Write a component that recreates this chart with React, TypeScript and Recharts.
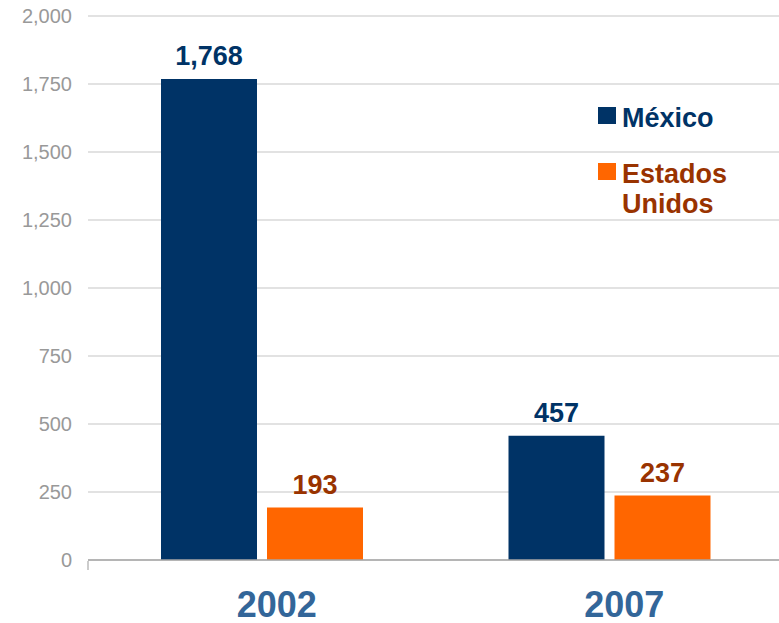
import { Bar, BarChart, CartesianGrid, LabelList, Legend, XAxis, YAxis } from "recharts";

const years = ["2002", "2007"];
const mexico = [1768, 457];
const usa = [193, 237];
const yTicks = [0, 250, 500, 750, 1000, 1250, 1500, 1750, 2000];
const edgeTicks = [0, 1];

const data = years.map((year, i) => ({ year, mexico: mexico[i], usa: usa[i] }));

const font = "'Liberation Sans', Arial, sans-serif";
const navy = "#003366";
const orange = "#ff6600";
const brown = "#993300";

const fmt = (v: number) => v.toLocaleString("en-US");

function YearTick({ x, y, payload }: any) {
  return (
    <text x={x + 15} y={y + 57} textAnchor="middle" fill="#336699" fontFamily={font} fontSize={36} fontWeight="bold">
      {payload.value}
    </text>
  );
}

function makeLabel(color: string) {
  return ({ x, y, width, value }: any) => (
    <text x={x + width / 2} y={y - 14} textAnchor="middle" fill={color} fontFamily={font} fontSize={27} fontWeight="bold">
      {fmt(value)}
    </text>
  );
}

function LegendBox({ payload }: any) {
  const items = [...(payload || [])].sort((a: any, b: any) => (a.dataKey === "mexico" ? -1 : b.dataKey === "mexico" ? 1 : 0));
  return (
    <div style={{ fontFamily: font, fontWeight: "bold", fontSize: 27, lineHeight: "30px" }}>
      {items.map((item: any, i: number) => (
        <div key={item.value} style={{ display: "flex", alignItems: "flex-start", marginBottom: i === 0 ? 26 : 0 }}>
          <div style={{ width: 18, height: 17, marginTop: 4, marginRight: 6, background: item.color, flexShrink: 0 }} />
          <div style={{ width: 130, color: item.dataKey === "mexico" ? navy : brown }}>{item.value}</div>
        </div>
      ))}
    </div>
  );
}

export default function App() {
  return (
    <div style={{ position: "absolute", left: 0, top: 0, width: 779, height: 623, overflow: "hidden", background: "#fff" }}>
      <BarChart width={783} height={623} data={data} margin={{ top: 16, right: 0, bottom: 61, left: 0 }} barSize={96} barGap={10}>
        <CartesianGrid vertical={false} stroke="#d9d9d9" strokeWidth={1.5} />
        <YAxis
          width={88}
          domain={[0, 2000]}
          ticks={yTicks}
          tickFormatter={fmt}
          axisLine={false}
          tickLine={false}
          tickSize={0}
          tickMargin={16}
          tick={{ fill: "#999999", fontSize: 20, fontFamily: font }}
        />
        <XAxis
          dataKey="year"
          height={1}
          axisLine={{ stroke: "#a6a6a6", strokeWidth: 1.5 }}
          tickLine={false}
          tickSize={0}
          tickMargin={0}
          tick={<YearTick />}
          interval={0}
        />
        <XAxis
          xAxisId="edge"
          type="number"
          domain={[0, 2]}
          allowDataOverflow
          ticks={edgeTicks}
          interval={0}
          height={1}
          axisLine={false}
          tick={() => <g />}
          tickSize={9}
          tickLine={{ stroke: "#999999", strokeWidth: 1 }}
        />
        <Legend
          layout="horizontal"
          verticalAlign="middle"
          content={<LegendBox />}
          wrapperStyle={{ left: 598, top: 103, width: 170 }}
        />
        <Bar dataKey="mexico" name="México" fill={navy} isAnimationActive={false}>
          <LabelList dataKey="mexico" content={makeLabel(navy)} />
        </Bar>
        <Bar dataKey="usa" name="Estados Unidos" fill={orange} isAnimationActive={false}>
          <LabelList dataKey="usa" content={makeLabel(brown)} />
        </Bar>
      </BarChart>
    </div>
  );
}
